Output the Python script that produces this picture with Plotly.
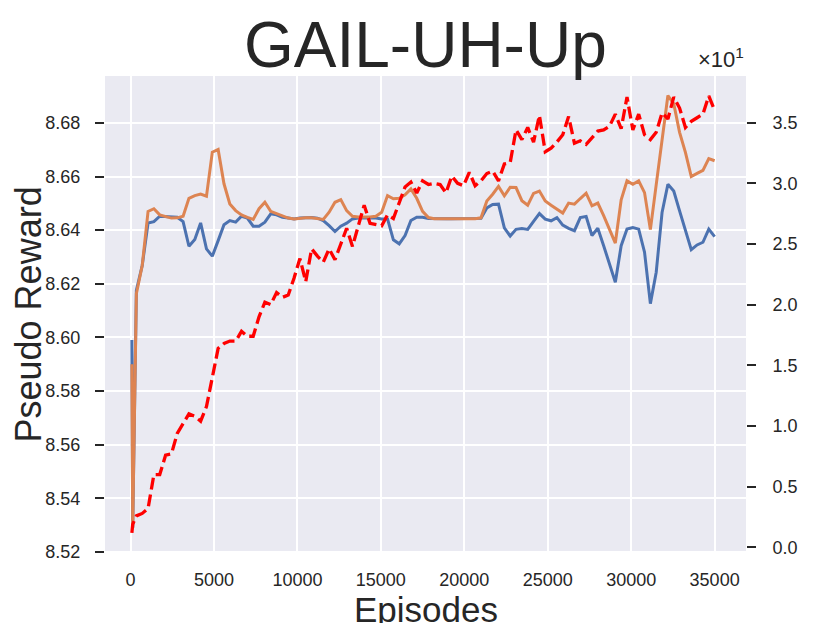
import plotly.graph_objects as go

episodes = [80, 130, 350, 700, 1050, 1400, 1750, 2100, 2450, 2800, 3150, 3500, 3850, 4200, 4550,
            4900, 5250, 5600, 5950, 6300, 6650, 7000, 7350, 7700, 8050, 8400, 8750, 9100, 9450,
            9800, 10150, 10500, 10850, 11200, 11550, 11900, 12250, 12600, 12950, 13300, 13650,
            14000, 14350, 14700, 15050, 15400, 15750, 16100, 16450, 16800, 17150, 17500, 17850,
            18200, 18550, 18900, 19250, 19600, 19950, 20300, 20650, 21000, 21350, 21700, 22050,
            22400, 22750, 23100, 23450, 23800, 24150, 24500, 24850, 25200, 25550, 25900, 26250,
            26600, 26950, 27300, 27650, 28000, 28350, 28700, 29050, 29400, 29750, 30100, 30450,
            30800, 31150, 31500, 31850, 32200, 32550, 32900, 33250, 33600, 33950, 34300, 34650,
            35000]

reward_blue = [8.599, 8.529, 8.6175, 8.6268, 8.6427, 8.6432, 8.6452, 8.6451, 8.6450, 8.6448,
               8.6432, 8.6340, 8.6365, 8.6427, 8.6330, 8.6303, 8.6361, 8.6420, 8.6436, 8.6430,
               8.6452, 8.6445, 8.6415, 8.6415, 8.6430, 8.6461, 8.6457, 8.6448, 8.6445, 8.6442,
               8.6445, 8.6447, 8.6447, 8.6445, 8.6436, 8.6417, 8.6395, 8.6415, 8.6426, 8.6442,
               8.6445, 8.6445, 8.6445, 8.6445, 8.6442, 8.6442, 8.6364, 8.6349, 8.6380, 8.6436,
               8.6448, 8.6448, 8.6444, 8.6443, 8.6443, 8.6443, 8.6443, 8.6443, 8.6443, 8.6443,
               8.6443, 8.6444, 8.6483, 8.6496, 8.6497, 8.6409, 8.6378, 8.6403, 8.6406, 8.6403,
               8.6433, 8.6462, 8.6441, 8.6435, 8.6447, 8.6419, 8.6407, 8.6398, 8.6447, 8.6451,
               8.6380, 8.6407, 8.6342, 8.6274, 8.6206, 8.6342, 8.6404, 8.6410, 8.6404, 8.6318,
               8.6126, 8.6243, 8.6466, 8.6571, 8.6546, 8.6472, 8.6404, 8.6327, 8.6345, 8.6355,
               8.6404, 8.6376]

reward_orange = [8.590, 8.529, 8.6163, 8.6268, 8.6470, 8.6480, 8.6457, 8.6451, 8.6445, 8.6446,
                 8.6452, 8.6519, 8.6529, 8.6535, 8.6527, 8.6691, 8.6701, 8.6573, 8.6498, 8.6473,
                 8.6457, 8.6448, 8.6440, 8.6480, 8.6504, 8.6470, 8.6461, 8.6451, 8.6445, 8.6442,
                 8.6445, 8.6446, 8.6446, 8.6442, 8.6440, 8.6467, 8.6504, 8.6514, 8.6473, 8.6452,
                 8.6449, 8.6449, 8.6449, 8.6452, 8.6467, 8.6529, 8.6517, 8.6519, 8.6532, 8.6554,
                 8.6519, 8.6470, 8.6447, 8.6443, 8.6443, 8.6443, 8.6443, 8.6443, 8.6443, 8.6443,
                 8.6443, 8.6446, 8.6509, 8.6534, 8.6563, 8.6528, 8.6560, 8.6559, 8.6510, 8.6493,
                 8.6537, 8.6546, 8.6509, 8.6493, 8.6478, 8.6464, 8.6501, 8.6497, 8.6518, 8.6538,
                 8.6491, 8.6501, 8.6454, 8.6402, 8.6352, 8.6513, 8.6584, 8.6571, 8.6584, 8.6540,
                 8.6402, 8.6570, 8.6735, 8.6902, 8.6872, 8.6765, 8.6690, 8.6600, 8.6612, 8.6623,
                 8.6667, 8.6659]

# right axis, shown in units of x10^1
reward_red = [0.12, 0.19, 0.26, 0.28, 0.32, 0.60, 0.60, 0.76, 0.77, 0.94, 1.02, 1.10, 1.08, 1.04,
              1.16, 1.40, 1.64, 1.68, 1.70, 1.70, 1.78, 1.74, 1.74, 1.90, 2.02, 2.00, 2.10, 2.06,
              2.08, 2.22, 2.38, 2.19, 2.46, 2.40, 2.35, 2.46, 2.37, 2.50, 2.63, 2.48, 2.64, 2.82,
              2.67, 2.66, 2.65, 2.74, 2.71, 2.84, 2.97, 3.01, 2.92, 3.02, 2.99, 3.00, 2.99, 2.92,
              3.06, 3.00, 2.98, 3.09, 2.98, 3.02, 3.08, 3.10, 3.02, 3.16, 3.17, 3.44, 3.36, 3.46,
              3.34, 3.56, 3.26, 3.29, 3.34, 3.40, 3.55, 3.33, 3.35, 3.32, 3.38, 3.43, 3.44, 3.47,
              3.57, 3.45, 3.71, 3.44, 3.57, 3.40, 3.36, 3.42, 3.58, 3.53, 3.71, 3.62, 3.46, 3.51,
              3.54, 3.57, 3.72, 3.60]

x_ticks = [0, 5000, 10000, 15000, 20000, 25000, 30000, 35000]
x_ticktext = ["0", "5000", "10000", "15000", "20000", "25000", "30000", "35000"]
left_ticks = [8.52, 8.54, 8.56, 8.58, 8.60, 8.62, 8.64, 8.66, 8.68]
right_ticks = [0.0, 0.5, 1.0, 1.5, 2.0, 2.5, 3.0, 3.5]

TXT = "#262626"
FONT = "Liberation Sans, Arial, sans-serif"

fig = go.Figure()
fig.add_trace(go.Scatter(x=episodes, y=reward_blue, mode="lines",
                         line=dict(color="#4C72B0", width=3), showlegend=False))
fig.add_trace(go.Scatter(x=episodes, y=reward_orange, mode="lines",
                         line=dict(color="#DD8452", width=3), showlegend=False))
fig.add_trace(go.Scatter(x=episodes, y=reward_red, mode="lines", yaxis="y2",
                         line=dict(color="#FF0000", width=3.3, dash="12px,5px"), showlegend=False))

fig.update_layout(
    width=822, height=615,
    margin=dict(l=97, r=84, t=68, b=70),
    paper_bgcolor="white",
    plot_bgcolor="#EAEAF2",
    font=dict(family=FONT, color=TXT),
    xaxis=dict(range=[-1530, 36880], tickvals=x_ticks, ticktext=x_ticktext,
               showgrid=True, gridcolor="white", gridwidth=1.8, zeroline=False,
               showline=False, ticks="", tickfont=dict(size=18, color=TXT),
               ticklabelstandoff=14, automargin=False),
    yaxis=dict(range=[8.5196, 8.6975], tickvals=left_ticks, tickformat=".2f",
               showgrid=True, gridcolor="white", gridwidth=1.8, zeroline=False,
               showline=False, ticks="outside", ticklen=9, tickwidth=1.5, tickcolor=TXT,
               tickfont=dict(size=18, color=TXT), ticklabelstandoff=11, automargin=False),
    yaxis2=dict(range=[-0.046, 3.884], tickvals=right_ticks, tickformat=".1f",
                overlaying="y", side="right", showgrid=False, zeroline=False,
                showline=False, ticks="outside", ticklen=9, tickwidth=1.5, tickcolor=TXT,
                tickfont=dict(size=18, color=TXT), ticklabelstandoff=13, automargin=False),
    annotations=[
        dict(text="GAIL-UH-Up", xref="paper", yref="paper", x=0.5, y=1.06,
             xanchor="center", yanchor="middle", yshift=2, showarrow=False,
             font=dict(size=64, color=TXT, family=FONT)),
        dict(text="Episodes", xref="paper", yref="paper", x=0.5, y=-0.1185,
             xanchor="center", yanchor="middle", showarrow=False,
             font=dict(size=35, color=TXT, family=FONT)),
        dict(text="Pseudo Reward", xref="paper", yref="paper", x=-0.1186, y=0.5,
             xanchor="center", yanchor="middle", showarrow=False, textangle=-90,
             font=dict(size=36, color=TXT, family=FONT)),
        dict(text="×10<sup>1</sup>", xref="paper", yref="paper", x=1.0, y=1.0,
             xanchor="right", yanchor="bottom", yshift=2, showarrow=False,
             font=dict(size=22, color=TXT, family=FONT)),
    ],
)

fig.write_html("out.html")
